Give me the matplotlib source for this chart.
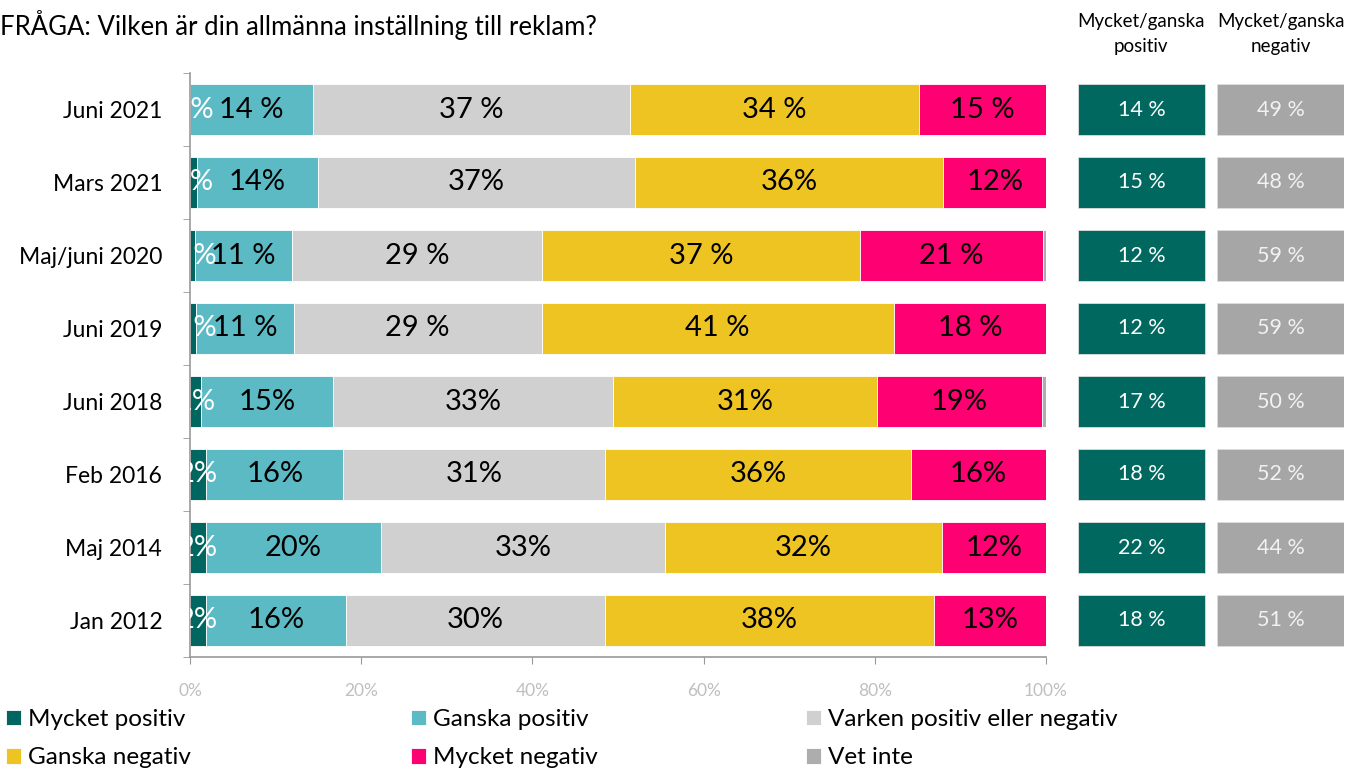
import matplotlib.pyplot as plt
import numpy as np

plt.rcParams['font.family'] = ['Lato', 'DejaVu Sans']

categories = ['Juni 2021', 'Mars 2021', 'Maj/juni 2020', 'Juni 2019',
              'Juni 2018', 'Feb 2016', 'Maj 2014', 'Jan 2012']
series = ['Mycket positiv', 'Ganska positiv', 'Varken positiv eller negativ',
          'Ganska negativ', 'Mycket negativ', 'Vet inte']

mycket_positiv = [0.0, 0.8, 0.6, 0.7, 1.3, 1.9, 1.9, 1.9]
ganska_positiv = [14.4, 14.2, 11.3, 11.4, 15.4, 16.0, 20.4, 16.3]
varken = [37.0, 37.0, 29.2, 29.0, 32.7, 30.6, 33.2, 30.3]
ganska_negativ = [33.8, 36.0, 37.2, 41.1, 30.9, 35.7, 32.4, 38.4]
mycket_negativ = [14.8, 12.0, 21.3, 17.8, 19.2, 15.8, 12.1, 13.1]
vet_inte = [0.0, 0.0, 0.4, 0.0, 0.5, 0.0, 0.0, 0.0]

# "14 %" vs "14%" differs between survey waves
label_sep = [' ', '', ' ', ' ', '', '', '', '']

sum_positiv = [14, 15, 12, 12, 17, 18, 22, 18]
sum_negativ = [49, 48, 59, 59, 50, 52, 44, 51]

colors = ['#00665F', '#5CBAC5', '#D0D0D0', '#EEC422', '#FF0073', '#ADADAD']
text_colors = ['white', 'black', 'black', 'black', 'black', None]

W, H = 1349, 775
fig = plt.figure(figsize=(W / 100, H / 100), dpi=100)

ax = fig.add_axes([190 / W, (H - 657) / H, 856 / W, 584 / H])

data = [mycket_positiv, ganska_positiv, varken, ganska_negativ,
        mycket_negativ, vet_inte]
y = np.arange(len(categories))
left = np.zeros(len(categories))
handles = []
for vals, col, tcol, name in zip(data, colors, text_colors, series):
    vals = np.array(vals, dtype=float)
    b = ax.barh(y, vals, left=left, height=0.71, color=col,
                edgecolor='white', linewidth=0.6, label=name)
    handles.append(b)
    if tcol is not None:
        for i, v in enumerate(vals):
            ax.text(left[i] + v / 2, y[i], f'{v:.0f}{label_sep[i]}%',
                    ha='center', va='center', fontsize=21, color=tcol,
                    clip_on=True)
    left += vals

ax.set_xlim(0, 100)
ax.set_ylim(len(categories) - 0.5, -0.5)
ax.set_yticks(y)
ax.set_yticklabels(categories, fontsize=16.5)
ax.set_yticks(np.arange(len(categories) + 1) - 0.5, minor=True)
ax.tick_params(axis='y', which='major', length=0, pad=20)
ax.tick_params(axis='y', which='minor', length=5, color='#999999')
ax.set_xticks(np.arange(0, 101, 20))
ax.set_xticklabels([f'{t}%' for t in range(0, 101, 20)])
ax.tick_params(axis='x', length=5, color='#999999', labelcolor='#BFBFBF',
               labelsize=12.5, pad=14)
for s in ['top', 'right']:
    ax.spines[s].set_visible(False)
for s in ['left', 'bottom']:
    ax.spines[s].set_color('#999999')
    ax.spines[s].set_linewidth(1.2)

# summary boxes on the right
ax2 = fig.add_axes([1078 / W, (H - 657) / H, 266 / W, 584 / H], sharey=ax)
ax2.set_xlim(0, 1)
ax2.barh(y, 0.4774, left=0, height=0.71, color='#00685F',
         edgecolor='#DDDDDD', linewidth=0.6)
ax2.barh(y, 0.4774, left=0.5226, height=0.71, color='#A6A6A6',
         edgecolor='#DDDDDD', linewidth=0.6)
for i in range(len(categories)):
    ax2.text(0.2387, y[i], f'{sum_positiv[i]} %', ha='center', va='center',
             fontsize=15.5, color='white')
    ax2.text(0.7613, y[i], f'{sum_negativ[i]} %', ha='center', va='center',
             fontsize=15.5, color='#F2F2F2')
ax2.axis('off')

fig.text(1141 / W, 1 - 34 / H, 'Mycket/ganska\npositiv', ha='center',
         va='center', fontsize=13.5, linespacing=1.6)
fig.text(1281 / W, 1 - 34 / H, 'Mycket/ganska\nnegativ', ha='center',
         va='center', fontsize=13.5, linespacing=1.6)

fig.text(0.0, 1 - 25 / H, 'FRÅGA: Vilken är din allmänna inställning till reklam?',
         ha='left', va='center', fontsize=18.5)

# legend: three columns, two rows
col_x = [6, 411, 806]
for c in range(3):
    fig.legend([handles[c], handles[c + 3]], [series[c], series[c + 3]],
               loc='upper left', bbox_to_anchor=(col_x[c] / W, 1 - 709 / H),
               frameon=False, fontsize=17.5, handlelength=0.6,
               handleheight=0.6, handletextpad=0.3, labelspacing=0.72,
               borderaxespad=0, borderpad=0)

fig.savefig('out.png', dpi=100)
